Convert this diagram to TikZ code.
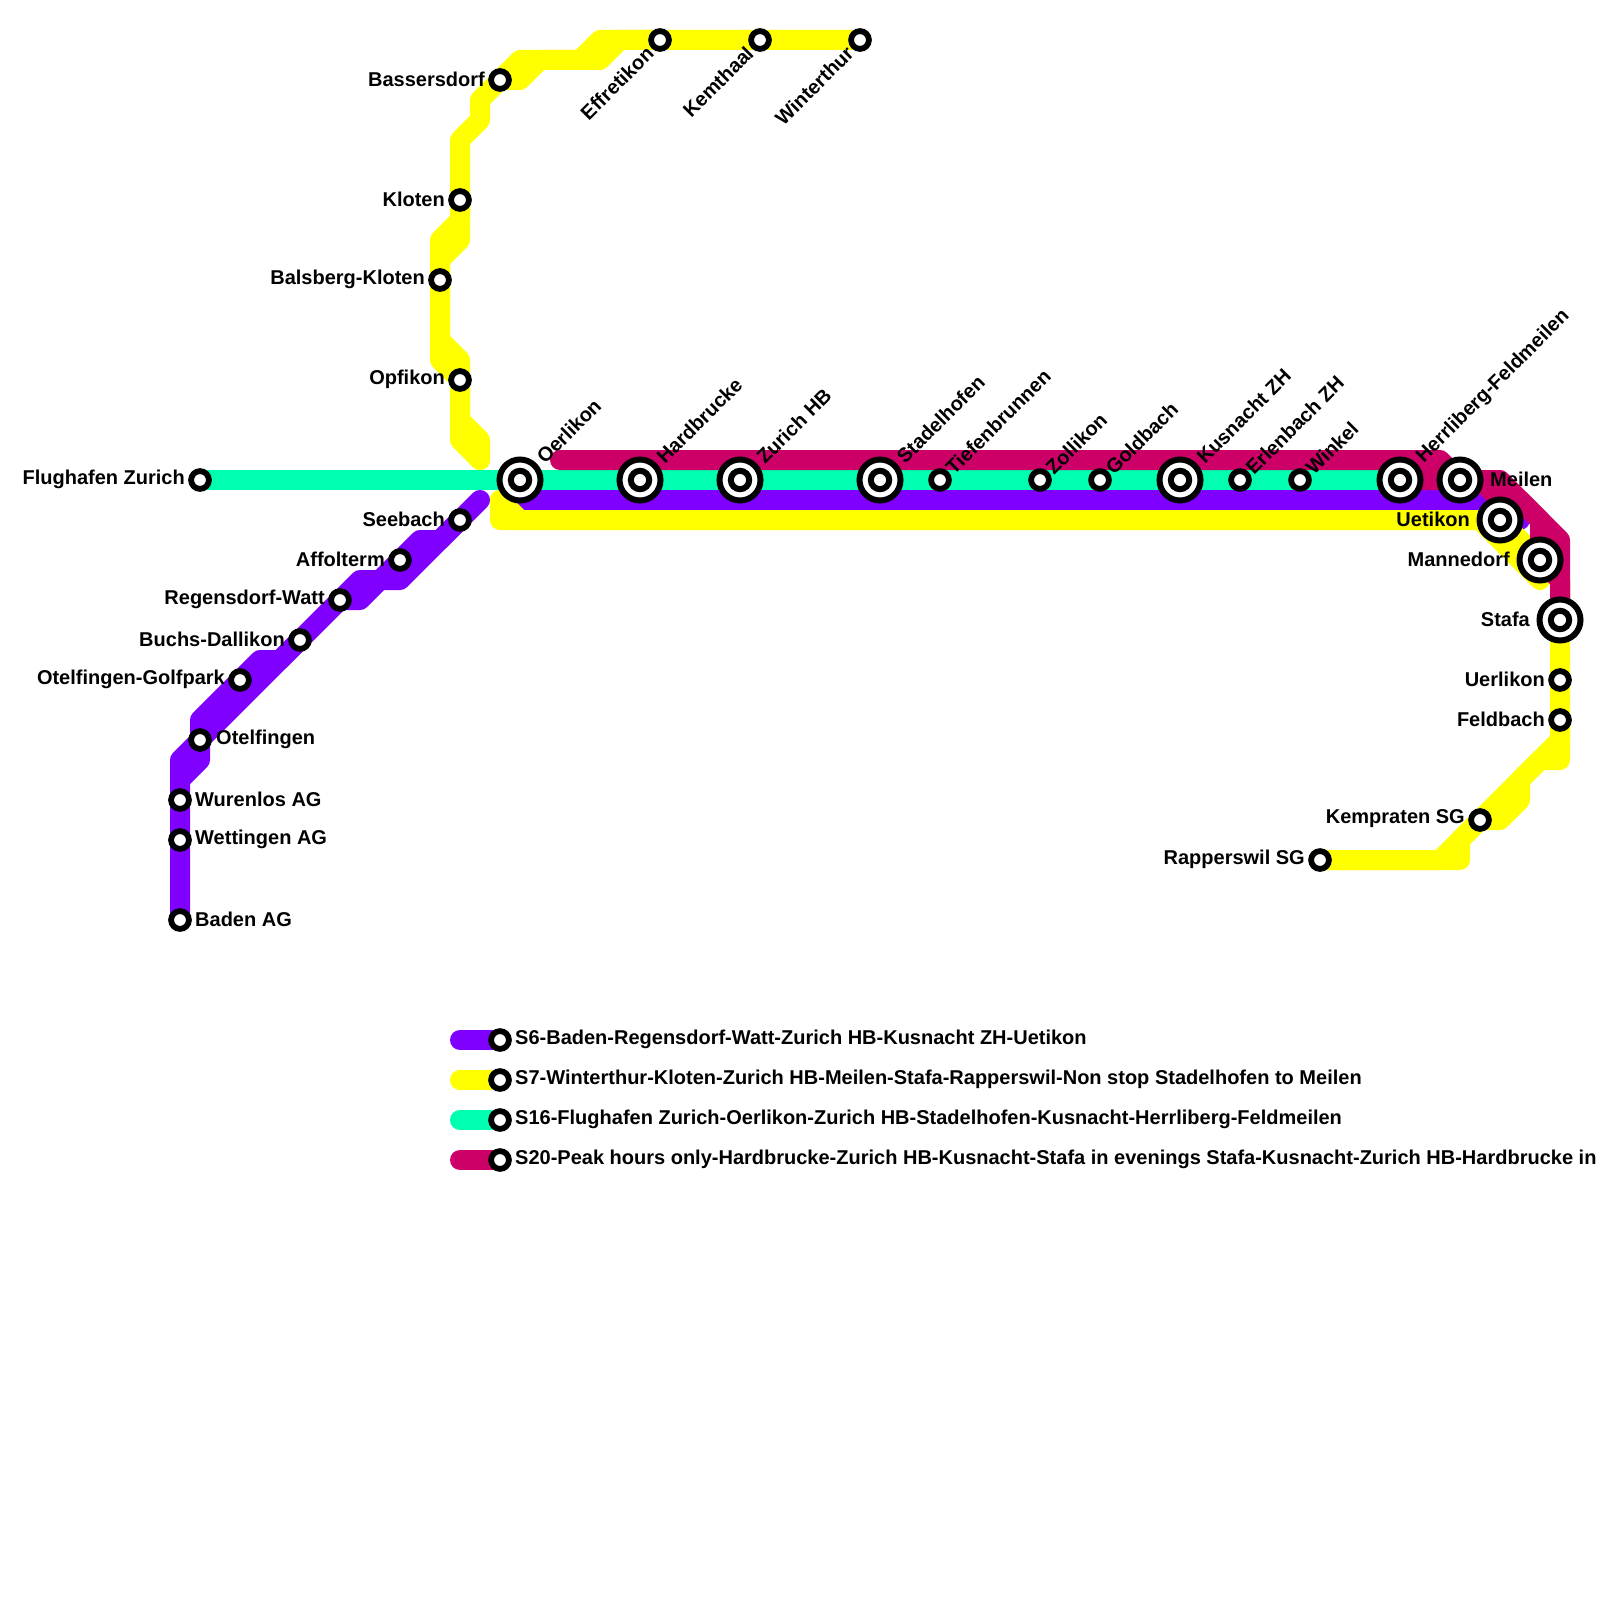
\documentclass[tikz,border=0pt]{standalone}
\usepackage{fontspec}
\setmainfont{Liberation Sans}
\usetikzlibrary{backgrounds}
\definecolor{sixc}{HTML}{8000FF}
\definecolor{sevenc}{HTML}{FFFF00}
\definecolor{sixteenc}{HTML}{00FFB0}
\definecolor{twentyc}{HTML}{CC0066}
\tikzset{
  lineS/.style={line width=20pt,line cap=round,line join=round},
  stsmall/.style={circle,draw=black,fill=white,line width=5.8pt,minimum size=17.8pt,inner sep=0pt},
  stbig/.style={circle,draw=black,fill=white,line width=6pt,minimum size=41pt,inner sep=0pt},
  stinner/.style={circle,draw=black,fill=white,line width=6pt,minimum size=18.4pt,inner sep=0pt},
  lbl/.style={font=\fontsize{20}{22}\selectfont\bfseries,inner sep=0pt,text=black}
}
\newcommand{\stS}[3]{\node[stsmall] (#1) at (#2,#3) {};}
\newcommand{\stB}[3]{\node[stbig] (#1) at (#2,#3) {}; \node[stinner] (#1-i) at (#1.center) {};}
\newcommand{\lW}[3]{\node[lbl,anchor=east] (#1-l) at ([shift={(#2,-1)}]#1.center) {#3};}
\newcommand{\lE}[3]{\node[lbl,anchor=west] (#1-l) at ([shift={(#2,-1)}]#1.center) {#3};}
\newcommand{\lNE}[3]{\node[lbl,anchor=west,rotate=45] (#1-l) at ([shift={(#2,-#2)}]#1.center) {#3};}
\newcommand{\lSW}[3]{\node[lbl,anchor=east,rotate=45] (#1-l) at ([shift={(-#2,#2)}]#1.center) {#3};}
\begin{document}
\begin{tikzpicture}[x=1pt,y=-1pt]
\useasboundingbox (0,0) rectangle (1600,1600);
% stations
\stS{flug}{200}{480} \stS{see}{460}{520} \stS{aff}{400}{560} \stS{reg}{340}{600}
\stS{buc}{300}{640} \stS{golf}{240}{680} \stS{ote}{200}{740} \stS{wur}{180}{800}
\stS{wet}{180}{840} \stS{bad}{180}{920}
\stS{bas}{500}{80} \stS{klo}{460}{200} \stS{bal}{440}{280} \stS{opf}{460}{380}
\stS{eff}{660}{40} \stS{kem}{760}{40} \stS{win}{860}{40}
\stB{oer}{520}{480} \stB{har}{640}{480} \stB{zhb}{740}{480} \stB{sta}{880}{480}
\stS{tie}{940}{480} \stS{zol}{1040}{480} \stS{gol}{1100}{480} \stB{kus}{1180}{480}
\stS{erl}{1240}{480} \stS{wnk}{1300}{480} \stB{her}{1400}{480} \stB{mei}{1460}{480}
\stB{uet}{1500}{520} \stB{man}{1540}{560} \stB{stf}{1560}{620}
\stS{uer}{1560}{680} \stS{fel}{1560}{720} \stS{kmp}{1480}{820} \stS{rap}{1320}{860}
\stS{k6}{500}{1040} \stS{k7}{500}{1080} \stS{k16}{500}{1120} \stS{k20}{500}{1160}
% labels
\lW{flug}{-15}{Flughafen Zurich}
\lW{see}{-15}{Seebach} \lW{aff}{-15}{Affolterm} \lW{reg}{-15}{Regensdorf-Watt}
\lW{buc}{-15}{Buchs-Dallikon} \lW{golf}{-15}{Otelfingen-Golfpark}
\lE{ote}{16}{Otelfingen} \lE{wur}{15}{Wurenlos AG} \lE{wet}{15}{Wettingen AG} \lE{bad}{15}{Baden AG}
\lW{bas}{-15}{Bassersdorf} \lW{klo}{-15}{Kloten} \lW{bal}{-15}{Balsberg-Kloten} \lW{opf}{-15}{Opfikon}
\lSW{eff}{10}{Effretikon} \lSW{kem}{10}{Kemthaal} \lSW{win}{10}{Winterthur}
\lNE{oer}{20}{Oerlikon} \lNE{har}{20}{Hardbrucke} \lNE{zhb}{20}{Zurich HB} \lNE{sta}{20}{Stadelhofen}
\lNE{tie}{9}{Tiefenbrunnen} \lNE{zol}{9}{Zollikon} \lNE{gol}{9}{Goldbach} \lNE{kus}{20}{Kusnacht ZH}
\lNE{erl}{9}{Erlenbach ZH} \lNE{wnk}{9}{Winkel} \lNE{her}{20}{Herrliberg-Feldmeilen}
\lE{mei}{30}{Meilen} \lW{uet}{-30}{Uetikon} \lW{man}{-30}{Mannedorf} \lW{stf}{-30}{Stafa}
\lW{uer}{-15}{Uerlikon} \lW{fel}{-15}{Feldbach} \lW{kmp}{-15}{Kempraten SG} \lW{rap}{-15}{Rapperswil SG}
\lE{k6}{15}{S6-Baden-Regensdorf-Watt-Zurich HB-Kusnacht ZH-Uetikon}
\lE{k7}{15}{S7-Winterthur-Kloten-Zurich HB-Meilen-Stafa-Rapperswil-Non stop Stadelhofen to Meilen}
\lE{k16}{15}{S16-Flughafen Zurich-Oerlikon-Zurich HB-Stadelhofen-Kusnacht-Herrliberg-Feldmeilen}
\lE{k20}{15}{S20-Peak hours only-Hardbrucke-Zurich HB-Kusnacht-Stafa in evenings Stafa-Kusnacht-Zurich HB-Hardbrucke in}
\begin{scope}[on background layer]
\fill[white] (0,0) rectangle (1600,1600);
% S6
\draw[lineS,sixc] (bad.center) -- (wet.center) -- (wur.center) -- (180,760) -- (ote.center) -- (buc.center) -- (reg.center) -- (360,580) -- (380,580) -- (aff.center) -- (420,540) -- (440,540) -- (see.center) -- (480,500);
\draw[lineS,sixc] (180,780) -- (200,760) -- (ote.center) -- (200,720) -- (golf.center) -- (260,660) -- (280,660) -- (buc.center);
\draw[lineS,sixc] (reg.center) -- (360,600) -- (380,580) -- (400,580) -- (see.center);
\draw[lineS,sixc] (oer.center) -- (520,500) -- (1480,500) -- (uet.center) -- (1520,520);
\draw[lineS,sixc] (460,1040) -- (k6.center);
% S7
\draw[lineS,sevenc] (480,460) -- (460,440) -- (opf.center) -- (440,360) -- (bal.center) -- (440,240) -- (460,220) -- (klo.center) -- (460,140) -- (480,120) -- (480,100) -- (bas.center) -- (520,60) -- (580,60) -- (600,40) -- (eff.center) -- (kem.center) -- (win.center);
\draw[lineS,sevenc] (480,460) -- (480,440) -- (460,420) -- (opf.center) -- (460,360) -- (440,340) -- (bal.center) -- (440,260) -- (460,240) -- (klo.center);
\draw[lineS,sevenc] (bas.center) -- (520,80) -- (540,60) -- (600,60) -- (620,40) -- (eff.center);
\draw[lineS,sevenc] (500,500) -- (500,520) -- (uet.center) -- (man.center) -- (1560,580) -- (stf.center) -- (uer.center) -- (fel.center) -- (1560,760) -- (1540,760) -- (1520,780) -- (1520,800) -- (1500,820) -- (kmp.center) -- (1460,840) -- (1460,860) -- (rap.center);
\draw[lineS,sevenc] (fel.center) -- (1560,740) -- (1440,860) -- (rap.center);
\draw[lineS,sevenc] (500,500) -- (520,520);
\draw[lineS,sevenc] (1480,520) -- (1540,580);
\draw[lineS,sevenc] (460,1080) -- (k7.center);
% S16
\draw[lineS,sixteenc] (flug.center) -- (oer.center) -- (har.center) -- (zhb.center) -- (sta.center) -- (tie.center) -- (zol.center) -- (gol.center) -- (kus.center) -- (erl.center) -- (wnk.center) -- (her.center);
\draw[lineS,sixteenc] (460,1120) -- (k16.center);
% S20
\draw[lineS,twentyc] (560,460) -- (1440,460) -- (mei.center) -- (1500,480) -- (1560,540) -- (stf.center);
\draw[lineS,twentyc] (her.center) -- (mei.center) -- (1480,480) -- (1500,500) -- (1520,500) -- (1540,520) -- (man.center) -- (1560,580) -- (stf.center);
\draw[lineS,twentyc] (460,1160) -- (k20.center);
\end{scope}
\end{tikzpicture}
\end{document}
